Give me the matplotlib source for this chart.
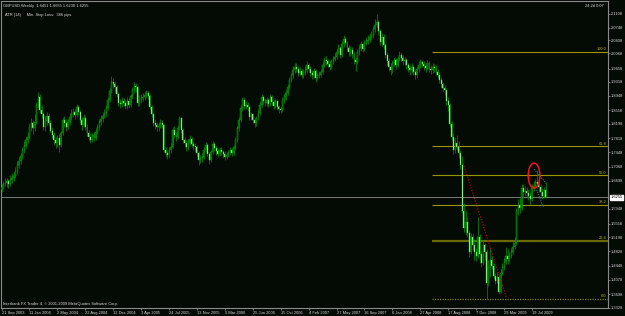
import matplotlib.pyplot as plt
from matplotlib.patches import Ellipse
import numpy as np

plt.rcParams['font.family'] = ['Liberation Sans', 'DejaVu Sans']

# GBPUSD weekly bars, Sep 2003 - Sep 2009
first_open = 1.645
closes = [
    1.653, 1.661, 1.664, 1.669, 1.660, 1.672, 1.676, 1.683, 1.695, 1.712,
    1.721, 1.735, 1.751, 1.762, 1.776, 1.785, 1.812, 1.822, 1.808, 1.825,
    1.870, 1.892, 1.857, 1.846, 1.812, 1.828, 1.840, 1.822, 1.801, 1.790,
    1.777, 1.768, 1.783, 1.764, 1.795, 1.830, 1.822, 1.812, 1.824, 1.838,
    1.846, 1.851, 1.843, 1.864, 1.851, 1.830, 1.818, 1.836, 1.812, 1.796,
    1.785, 1.777, 1.790, 1.783, 1.799, 1.812, 1.825, 1.833, 1.841, 1.849,
    1.862, 1.883, 1.908, 1.930, 1.925, 1.917, 1.900, 1.875, 1.872, 1.880,
    1.875, 1.866, 1.881, 1.870, 1.893, 1.909, 1.921, 1.917, 1.875, 1.884,
    1.889, 1.891, 1.896, 1.901, 1.893, 1.864, 1.845, 1.822, 1.817, 1.811,
    1.815, 1.822, 1.817, 1.751, 1.742, 1.738, 1.750, 1.759, 1.804, 1.790,
    1.785, 1.810, 1.835, 1.803, 1.777, 1.770, 1.759, 1.772, 1.780, 1.767,
    1.762, 1.759, 1.743, 1.724, 1.730, 1.732, 1.750, 1.764, 1.741, 1.724,
    1.745, 1.767, 1.755, 1.748, 1.740, 1.752, 1.746, 1.740, 1.733, 1.738,
    1.745, 1.750, 1.743, 1.758, 1.777, 1.808, 1.830, 1.862, 1.883, 1.868,
    1.870, 1.864, 1.838, 1.845, 1.830, 1.822, 1.835, 1.849, 1.870, 1.891,
    1.880, 1.875, 1.883, 1.872, 1.890, 1.878, 1.868, 1.880, 1.864, 1.858,
    1.857, 1.883, 1.890, 1.901, 1.918, 1.936, 1.948, 1.962, 1.970, 1.965,
    1.954, 1.960, 1.949, 1.957, 1.962, 1.975, 1.966, 1.954, 1.948, 1.960,
    1.941, 1.950, 1.949, 1.958, 1.976, 1.990, 1.985, 1.978, 1.970, 1.985,
    1.992, 1.998, 2.010, 2.020, 2.002, 2.030, 2.045, 2.035, 2.020, 2.010,
    2.015, 2.005, 1.990, 1.983, 2.010, 2.020, 2.030, 2.018, 2.035, 2.040,
    2.042, 2.050, 2.055, 2.070, 2.081, 2.090, 2.065, 2.036, 2.050, 2.028,
    2.002, 1.985, 1.970, 1.962, 1.980, 1.990, 1.975, 1.992, 2.002, 1.995,
    1.985, 1.989, 1.975, 1.968, 1.962, 1.970, 1.958, 1.949, 1.965, 1.975,
    1.983, 1.978, 1.972, 1.968, 1.980, 1.966, 1.962, 1.970, 1.968, 1.958,
    1.950, 1.936, 1.925, 1.915, 1.909, 1.880, 1.870, 1.820, 1.785, 1.751,
    1.770, 1.760, 1.742, 1.712, 1.590, 1.545, 1.560, 1.530, 1.480, 1.520,
    1.500, 1.480, 1.470, 1.520, 1.475, 1.452, 1.500, 1.480, 1.400, 1.440,
    1.460, 1.445, 1.418, 1.405, 1.415, 1.375, 1.425, 1.440, 1.455, 1.470,
    1.462, 1.470, 1.480, 1.495, 1.505, 1.590, 1.605, 1.598, 1.650, 1.640,
    1.643, 1.638, 1.630, 1.622, 1.650, 1.655, 1.665, 1.662, 1.653, 1.640,
    1.630, 1.645, 1.6255,
]
highs = [
    1.662, 1.668, 1.676, 1.678, 1.675, 1.684, 1.690, 1.693, 1.705, 1.722,
    1.733, 1.742, 1.759, 1.775, 1.784, 1.798, 1.822, 1.835, 1.830, 1.846,
    1.878, 1.905, 1.900, 1.870, 1.852, 1.840, 1.852, 1.848, 1.830, 1.812,
    1.798, 1.786, 1.790, 1.792, 1.802, 1.838, 1.842, 1.833, 1.832, 1.848,
    1.858, 1.862, 1.860, 1.872, 1.870, 1.856, 1.838, 1.845, 1.842, 1.820,
    1.805, 1.795, 1.797, 1.798, 1.808, 1.820, 1.834, 1.843, 1.850, 1.860,
    1.870, 1.892, 1.916, 1.946, 1.942, 1.934, 1.922, 1.905, 1.886, 1.890,
    1.888, 1.882, 1.890, 1.888, 1.900, 1.918, 1.930, 1.928, 1.920, 1.895,
    1.898, 1.902, 1.906, 1.910, 1.908, 1.898, 1.870, 1.850, 1.832, 1.826,
    1.825, 1.832, 1.830, 1.820, 1.760, 1.752, 1.758, 1.768, 1.812, 1.815,
    1.798, 1.818, 1.842, 1.838, 1.808, 1.786, 1.776, 1.780, 1.790, 1.786,
    1.775, 1.770, 1.764, 1.748, 1.738, 1.742, 1.758, 1.772, 1.768, 1.746,
    1.752, 1.775, 1.772, 1.762, 1.755, 1.760, 1.758, 1.752, 1.748, 1.746,
    1.752, 1.760, 1.756, 1.765, 1.785, 1.815, 1.838, 1.870, 1.892, 1.890,
    1.880, 1.878, 1.868, 1.852, 1.850, 1.836, 1.842, 1.856, 1.878, 1.898,
    1.895, 1.888, 1.892, 1.888, 1.898, 1.895, 1.884, 1.888, 1.885, 1.870,
    1.868, 1.890, 1.898, 1.910, 1.925, 1.944, 1.955, 1.972, 1.980, 1.982,
    1.972, 1.970, 1.966, 1.965, 1.972, 1.985, 1.982, 1.972, 1.962, 1.968,
    1.965, 1.958, 1.960, 1.966, 1.985, 1.998, 2.000, 1.992, 1.985, 1.992,
    2.000, 2.008, 2.018, 2.032, 2.025, 2.038, 2.055, 2.052, 2.040, 2.028,
    2.025, 2.022, 2.010, 1.998, 2.018, 2.028, 2.040, 2.035, 2.042, 2.050,
    2.055, 2.060, 2.066, 2.080, 2.098, 2.110, 2.095, 2.072, 2.060, 2.058,
    2.035, 2.010, 1.995, 1.980, 1.990, 1.998, 1.995, 2.000, 2.012, 2.010,
    2.002, 1.998, 1.995, 1.982, 1.975, 1.980, 1.975, 1.965, 1.972, 1.985,
    1.992, 1.990, 1.986, 1.980, 1.990, 1.985, 1.975, 1.980, 1.978, 1.975,
    1.966, 1.958, 1.945, 1.932, 1.922, 1.915, 1.890, 1.876, 1.828, 1.795,
    1.782, 1.790, 1.775, 1.752, 1.735, 1.610, 1.590, 1.574, 1.539, 1.531,
    1.531, 1.515, 1.492, 1.574, 1.528, 1.485, 1.512, 1.505, 1.490, 1.460,
    1.495, 1.470, 1.452, 1.425, 1.428, 1.420, 1.435, 1.452, 1.465, 1.495,
    1.488, 1.480, 1.492, 1.510, 1.520, 1.598, 1.620, 1.625, 1.660, 1.662,
    1.655, 1.652, 1.648, 1.640, 1.660, 1.668, 1.675, 1.698, 1.672, 1.660,
    1.650, 1.652, 1.6655,
]
lows = [
    1.640, 1.647, 1.655, 1.652, 1.650, 1.655, 1.664, 1.668, 1.676, 1.688,
    1.703, 1.714, 1.728, 1.744, 1.755, 1.768, 1.780, 1.801, 1.792, 1.800,
    1.820, 1.862, 1.850, 1.835, 1.805, 1.800, 1.818, 1.815, 1.795, 1.782,
    1.765, 1.755, 1.760, 1.745, 1.758, 1.790, 1.812, 1.802, 1.806, 1.818,
    1.830, 1.838, 1.834, 1.838, 1.843, 1.822, 1.805, 1.812, 1.803, 1.788,
    1.776, 1.770, 1.772, 1.775, 1.778, 1.792, 1.805, 1.818, 1.826, 1.835,
    1.842, 1.856, 1.878, 1.902, 1.915, 1.905, 1.890, 1.868, 1.862, 1.865,
    1.866, 1.858, 1.860, 1.862, 1.865, 1.886, 1.902, 1.905, 1.868, 1.868,
    1.876, 1.880, 1.884, 1.888, 1.885, 1.858, 1.838, 1.815, 1.806, 1.800,
    1.802, 1.808, 1.808, 1.745, 1.733, 1.728, 1.730, 1.742, 1.755, 1.782,
    1.775, 1.780, 1.805, 1.796, 1.770, 1.760, 1.748, 1.752, 1.765, 1.760,
    1.752, 1.748, 1.735, 1.712, 1.716, 1.720, 1.726, 1.745, 1.735, 1.715,
    1.720, 1.740, 1.748, 1.738, 1.732, 1.735, 1.738, 1.730, 1.725, 1.726,
    1.732, 1.738, 1.736, 1.738, 1.752, 1.772, 1.802, 1.825, 1.855, 1.860,
    1.858, 1.855, 1.830, 1.830, 1.822, 1.812, 1.815, 1.830, 1.843, 1.865,
    1.872, 1.866, 1.868, 1.865, 1.866, 1.870, 1.860, 1.862, 1.856, 1.848,
    1.848, 1.852, 1.876, 1.884, 1.895, 1.912, 1.930, 1.942, 1.955, 1.958,
    1.946, 1.948, 1.940, 1.942, 1.950, 1.955, 1.958, 1.946, 1.938, 1.942,
    1.932, 1.935, 1.940, 1.944, 1.952, 1.970, 1.976, 1.970, 1.962, 1.965,
    1.978, 1.985, 1.992, 2.004, 1.995, 1.998, 2.024, 2.028, 2.012, 2.000,
    2.000, 1.995, 1.978, 1.960, 1.978, 2.002, 2.012, 2.010, 2.012, 2.028,
    2.032, 2.036, 2.042, 2.048, 2.062, 2.075, 2.055, 2.028, 2.025, 2.018,
    1.995, 1.975, 1.960, 1.950, 1.955, 1.972, 1.966, 1.970, 1.985, 1.985,
    1.975, 1.976, 1.966, 1.958, 1.950, 1.955, 1.948, 1.938, 1.942, 1.958,
    1.968, 1.970, 1.962, 1.958, 1.962, 1.958, 1.952, 1.955, 1.958, 1.948,
    1.940, 1.928, 1.915, 1.905, 1.896, 1.870, 1.855, 1.812, 1.775, 1.740,
    1.742, 1.750, 1.730, 1.700, 1.585, 1.535, 1.525, 1.520, 1.468, 1.475,
    1.486, 1.460, 1.458, 1.465, 1.452, 1.442, 1.446, 1.460, 1.357, 1.392,
    1.415, 1.435, 1.410, 1.395, 1.398, 1.370, 1.372, 1.420, 1.432, 1.448,
    1.450, 1.455, 1.465, 1.475, 1.488, 1.500, 1.580, 1.585, 1.592, 1.625,
    1.628, 1.625, 1.618, 1.605, 1.615, 1.642, 1.650, 1.655, 1.640, 1.628,
    1.620, 1.625, 1.623,
]

date_labels = ['21 Sep 2003', '11 Jan 2004', '2 May 2004', '22 Aug 2004', '12 Dec 2004',
               '3 Apr 2005', '24 Jul 2005', '13 Nov 2005', '5 Mar 2006', '25 Jun 2006',
               '15 Oct 2006', '4 Feb 2007', '27 May 2007', '16 Sep 2007', '6 Jan 2008',
               '27 Apr 2008', '17 Aug 2008', '7 Dec 2008', '29 Mar 2009', '19 Jul 2009']
weeks_per_label = 16

price_ticks = [1.3328, 1.3698, 1.4078, 1.4448, 1.4828, 1.5198, 1.5558, 1.5948,
               1.6698, 1.7068, 1.7448, 1.7818, 1.8198, 1.8558, 1.8948, 1.9318,
               1.9658, 2.0068, 2.0408, 2.0748, 2.1108]

# Fibonacci retracement drawn from the 2008 high to the 2009 low
fib_high = 2.010
fib_low = 1.357
fib_start = 246.7
fib_levels = [0.0, 23.6, 38.2, 50.0, 61.8, 100.0]

bid = 1.6255
red_trend = ([264.6, 289.5], [1.715, 1.358])
cyan_lines = [([305.3, 312.0], [1.700, 1.663]), ([306.7, 310.5], [1.645, 1.600])]
circle_center = (305.2, 1.683)

BG = '#040a04'
TXT = '#d8d8d8'
FS = 2.9

W, H = 625, 316
fig = plt.figure(figsize=(W / 100, H / 100), dpi=100, facecolor=BG)
ax = fig.add_axes([1 / W, (H - 308.1) / H, 607 / W, 307.1 / H], facecolor=BG)
x_lo, x_hi = -0.287, 347.57
ax.set_xlim(x_lo, x_hi)
ax.set_ylim(1.3325, 2.1450)

opens = [first_open] + closes[:-1]
idx = np.arange(len(closes))
o = np.array(opens)
c = np.array(closes)
bull = c >= o

# candles: green wicks, dark bodies for up weeks and pale bodies for down weeks
ax.vlines(idx, lows, highs, color='#009400', lw=0.5, zorder=3)
ax.bar(idx[bull], (c - o)[bull], bottom=o[bull], width=0.55,
       color='#003800', edgecolor='#00c400', lw=0.3, zorder=4)
ax.bar(idx[~bull], (o - c)[~bull], bottom=c[~bull], width=0.55,
       color='#c8f8c0', edgecolor='#28d028', lw=0.3, zorder=4)

# bid line
ax.axhline(bid, color='#7a7a7a', lw=0.7, zorder=2)

# fibonacci levels
for lev in fib_levels:
    price = fib_low + (fib_high - fib_low) * lev / 100
    if lev == 0.0:
        ax.hlines(price, fib_start, x_hi, color='#808000', lw=0.9, ls=(0, (1, 1)), zorder=2)
    elif lev == 23.6:
        ax.hlines(price, fib_start, x_hi, color='#6a6a00', lw=1.6, zorder=2)
    else:
        ax.hlines(price, fib_start, x_hi, color='#969600', lw=0.8, zorder=2)
    ax.text(x_hi - 1, price + 0.002, f'{lev:.1f}', color='#b0b000', fontsize=FS,
            ha='right', va='bottom', zorder=5)

# trend lines and marker
ax.plot(*red_trend, color='#d00000', lw=0.8, ls=(0, (1, 1.5)), zorder=5)
for xs, ys in cyan_lines:
    ax.plot(xs, ys, color='#008c8c', lw=0.8, ls=(0, (1, 1)), zorder=5)
ax.add_patch(Ellipse(circle_center, 6.7, 0.066, fill=False, edgecolor='#ff1010',
                     lw=1.1, zorder=6))

# axes styling
for s in ax.spines.values():
    s.set_color('#8a8a8a')
    s.set_linewidth(0.8)
ax.yaxis.tick_right()
ax.set_yticks(price_ticks)
ax.set_yticklabels([f'{p:.4f}' for p in price_ticks])
ax.set_xticks(np.arange(len(date_labels)) * weeks_per_label)
ax.set_xticklabels(date_labels)
for lab in ax.get_xticklabels():
    lab.set_ha('left')
ax.tick_params(colors='#a0a0a0', labelcolor=TXT, labelsize=FS, length=1.5, width=0.5, pad=0.6)

# current price box
ax.text(1.004, bid, f'{bid:.4f}', transform=ax.get_yaxis_transform(), fontsize=FS,
        color='black', va='center', ha='left',
        bbox=dict(boxstyle='square,pad=0.2', fc='white', ec='white'), clip_on=False)

# overlay texts
fig.text(3 / W, 1 - 6 / H, 'GBPUSD,Weekly  1.6451 1.6655 1.6230 1.6255', color=TXT,
         fontsize=FS, va='center')
fig.text(5 / W, 1 - 15 / H, 'ATR (14)     Min. Stop Loss:  386 pips', color=TXT,
         fontsize=FS, va='center')
fig.text(604 / W, 1 - 6 / H, '24 2d 0:07', color=TXT, fontsize=FS, va='center', ha='right')
fig.text(3 / W, 1 - 304 / H, 'Interbank FX Trader 4, \u00a9 2001-2009 MetaQuotes Software Corp.',
         color=TXT, fontsize=FS, va='center')

fig.savefig('out.png', dpi=100, facecolor=BG)
